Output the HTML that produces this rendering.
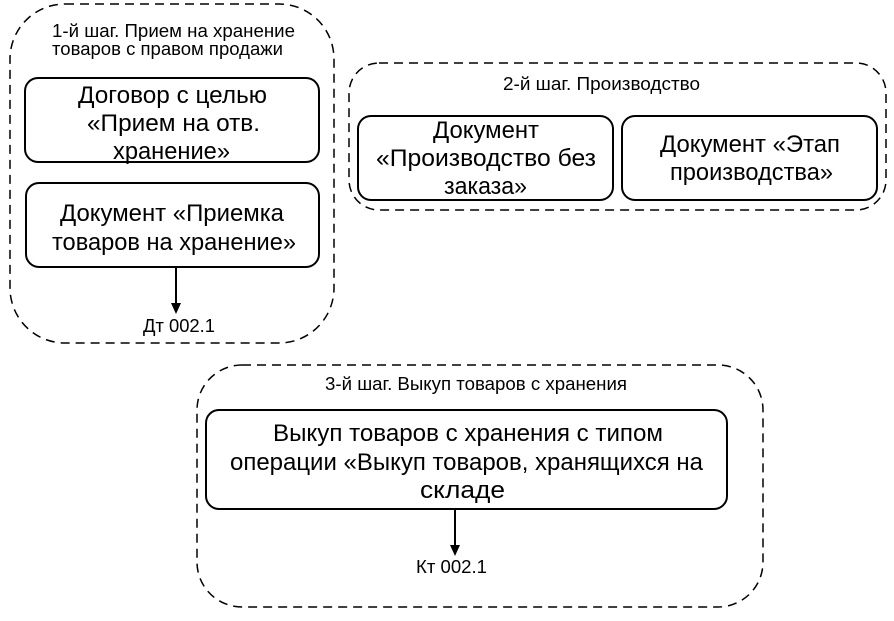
<!DOCTYPE html><html><head><meta charset="utf-8"><style>body{margin:0;background:#fff}</style></head><body>
<svg width="894" height="616" xmlns="http://www.w3.org/2000/svg" font-family="Liberation Sans, sans-serif">
<g fill="none" stroke="#000" stroke-width="1.5" stroke-dasharray="9,6">
<rect x="10" y="4" width="324" height="339" rx="55"/>
<rect x="349" y="63" width="537" height="147" rx="30"/>
<rect x="197" y="365" width="566" height="242" rx="45"/>
</g>
<g fill="none" stroke="#000" stroke-width="2">
<rect x="25" y="78" width="294" height="84" rx="13"/>
<rect x="26" y="183" width="293" height="84" rx="13"/>
<rect x="358" y="116" width="255" height="84" rx="13"/>
<rect x="622" y="116" width="255" height="84" rx="13"/>
<rect x="206" y="410" width="521" height="99" rx="13"/>
<line x1="176" y1="267" x2="176" y2="304"/>
<line x1="455" y1="509" x2="455" y2="546"/>
</g>
<polygon points="171,303 181,303 176,314" fill="#000"/>
<polygon points="450,545 460,545 455,556" fill="#000"/>
<g font-size="18">
<text x="52" y="37" textLength="243" lengthAdjust="spacingAndGlyphs">1-й шаг. Прием на хранение</text>
<text x="52" y="55" textLength="231" lengthAdjust="spacingAndGlyphs">товаров с правом продажи</text>
<text x="503" y="90" textLength="197" lengthAdjust="spacingAndGlyphs">2-й шаг. Производство</text>
<text x="325" y="390" textLength="302" lengthAdjust="spacingAndGlyphs">3-й шаг. Выкуп товаров с хранения</text>
<text x="143" y="332" textLength="72" lengthAdjust="spacingAndGlyphs">Дт 002.1</text>
<text x="416" y="573" textLength="71" lengthAdjust="spacingAndGlyphs">Кт 002.1</text>
</g>
<g font-size="24">
<text x="78" y="103" textLength="189" lengthAdjust="spacingAndGlyphs">Договор с целью</text>
<text x="87" y="131" textLength="173" lengthAdjust="spacingAndGlyphs">«Прием на отв.</text>
<text x="113" y="159" textLength="117" lengthAdjust="spacingAndGlyphs">хранение»</text>
<text x="60" y="221" textLength="224" lengthAdjust="spacingAndGlyphs">Документ «Приемка</text>
<text x="52" y="250" textLength="244" lengthAdjust="spacingAndGlyphs">товаров на хранение»</text>
<text x="433" y="138" textLength="106" lengthAdjust="spacingAndGlyphs">Документ</text>
<text x="376" y="166" textLength="220" lengthAdjust="spacingAndGlyphs">«Производство без</text>
<text x="444" y="194" textLength="83" lengthAdjust="spacingAndGlyphs">заказа»</text>
<text x="660" y="152" textLength="180" lengthAdjust="spacingAndGlyphs">Документ «Этап</text>
<text x="670" y="180" textLength="163" lengthAdjust="spacingAndGlyphs">производства»</text>
<text x="273" y="441" textLength="390" lengthAdjust="spacingAndGlyphs">Выкуп товаров с хранения с типом</text>
<text x="230" y="470" textLength="473" lengthAdjust="spacingAndGlyphs">операции «Выкуп товаров, хранящихся на</text>
<text x="420" y="498" textLength="85" lengthAdjust="spacingAndGlyphs">складе</text>
</g>
</svg></body></html>
